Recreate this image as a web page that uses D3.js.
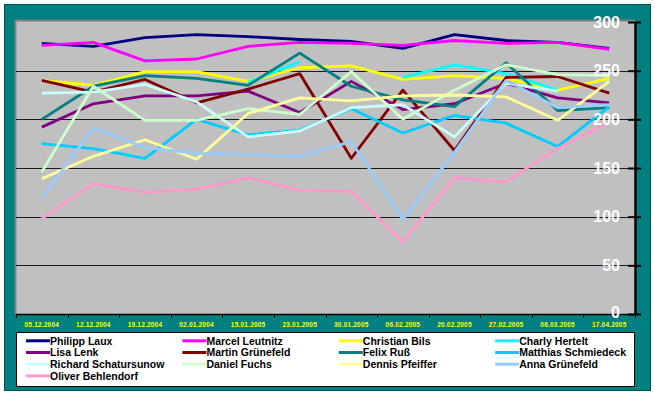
<!DOCTYPE html>
<html>
<head>
<meta charset="utf-8">
<script src="https://cdn.jsdelivr.net/npm/d3@7"></script>
<style>
  body { margin: 0; background: #fff; }
  svg { display: block; font-family: "Liberation Sans", Arial, sans-serif; }
</style>
</head>
<body>
<svg id="chart" width="655" height="397"></svg>
<script>
// dates on the category axis
var dates = ['05.12.2004', '12.12.2004', '19.12.2004', '02.01.2004', '15.01.2005', '23.01.2005',
  '30.01.2005', '06.02.2005', '20.02.2005', '27.02.2005', '06.03.2005', '17.04.2005'];

var yTicks = [0, 50, 100, 150, 200, 250, 300];

// one array per player (null = no value)
var philippLaux = [278, 275, 284, 287, 285, 282, 280, 273, 287, 281, 279, 273];
var marcelLeutnitz = [276, 279, 260, 262, 275, 279, 278, 276, 281, 278, 279, 272];
var christianBils = [240, 235, 249, 249, 239, 253, 255, 241, 245, 242, 230, 242];
var charlyHertelt = [null, null, null, null, 238, 259, null, 243, 256, 247, 230, null];
var lisaLenk = [192, 216, 224, 224, 229, 207, 239, 210, 216, 237, 222, 217];
var martinGruenefeld = [240, 228, 241, 217, 231, 247, 160, 230, 168, 243, 244, 227];
var felixRuss = [200, 234, 245, 242, 235, 268, 234, 220, 213, 258, 209, 212];
var matthiasSchmiedeck = [175, 170, 160, 200, 184, 189, 211, 186, 204, 196, 172, 213];
var richardSchatursunow = [227, 228, 236, 218, 182, 188, 212, 215, 182, 237, 229, null];
var danielFuchs = [146, 234, 199, 199, 211, 205, 249, 200, 230, 256, 246, 245];
var dennisPfeiffer = [139, 162, 179, 159, 206, 222, 219, 224, 225, 223, 199, 239];
var annaGruenefeld = [119, 191, 171, 165, 164, 162, 177, 97, 166, 240, 212, 215];
var oliverBehlendorf = [98, 134, 125, 128, 140, 127, 126, 74, 140, 136, 170, 197];

var names = ['Philipp Laux', 'Marcel Leutnitz', 'Christian Bils', 'Charly Hertelt', 'Lisa Lenk',
  'Martin Grünefeld', 'Felix Ruß', 'Matthias Schmiedeck', 'Richard Schatursunow', 'Daniel Fuchs',
  'Dennis Pfeiffer', 'Anna Grünefeld', 'Oliver Behlendorf'];

var values = [philippLaux, marcelLeutnitz, christianBils, charlyHertelt, lisaLenk, martinGruenefeld,
  felixRuss, matthiasSchmiedeck, richardSchatursunow, danielFuchs, dennisPfeiffer, annaGruenefeld,
  oliverBehlendorf];

// excel's default line colours, in series order
var colors = ['#000080', '#ff00ff', '#ffff00', '#00ffff', '#800080', '#800000', '#008080',
  '#00ccff', '#ccffff', '#ccffcc', '#ffff99', '#99ccff', '#ff99cc'];

var series = names.map(function(n, i) {
  return {name: n, values: values[i], color: colors[i]};
});

var svg = d3.select('#chart');

var plot = {left: 16, right: 635, top: 21, bottom: 314};

// teal background panel
svg.append('rect')
  .attr('x', 4.5).attr('y', 4.5)
  .attr('width', 646).attr('height', 386)
  .attr('fill', '#008080')
  .attr('stroke', '#005050');

// grey plot area with the darker top/left edge
svg.append('rect')
  .attr('x', plot.left).attr('y', plot.top)
  .attr('width', plot.right - plot.left).attr('height', plot.bottom - plot.top)
  .attr('fill', '#c0c0c0');
svg.append('path')
  .attr('d', 'M' + (plot.left - 0.5) + ',' + plot.bottom + 'V' + (plot.top - 0.5) + 'H' + plot.right)
  .attr('fill', 'none')
  .attr('stroke', '#808080')
  .attr('stroke-width', 2);

var x = d3.scaleBand().domain(dates).range([plot.left, plot.right]);
var y = d3.scaleLinear().domain([0, 300]).range([plot.bottom, 22]);

// gridlines
svg.append('g')
  .selectAll('line')
  .data(yTicks.filter(function(t) { return t > 0 && t < 300; }))
  .join('line')
  .attr('x1', plot.left).attr('x2', plot.right)
  .attr('y1', function(d) { return Math.round(y(d)) + 0.5; })
  .attr('y2', function(d) { return Math.round(y(d)) + 0.5; })
  .attr('stroke', '#1a1a1a');

// series lines
var line = d3.line()
  .defined(function(d) { return d != null; })
  .x(function(d, i) { return x(dates[i]) + x.bandwidth() / 2; })
  .y(function(d) { return y(d); });

svg.append('g')
  .selectAll('path')
  .data(series)
  .join('path')
  .attr('d', function(s) { return line(s.values); })
  .attr('fill', 'none')
  .attr('stroke', function(s) { return s.color; })
  .attr('stroke-width', 2.8)
  .attr('stroke-linejoin', 'round');

// category axis: labels centred, ticks at the band edges
var xAxis = svg.append('g')
  .attr('transform', 'translate(0,' + plot.bottom + ')')
  .call(d3.axisBottom(x).tickSize(0).tickPadding(8));
xAxis.select('.domain').remove();
xAxis.selectAll('text')
  .attr('fill', '#ffff00')
  .attr('font-size', '6.5px')
  .attr('font-weight', 'bold')
  .attr('letter-spacing', '0.2px')
  .attr('font-family', '"Liberation Sans", Arial, sans-serif');

var edges = dates.map(function(d) { return x(d); }).concat([plot.right]);
svg.append('g')
  .selectAll('line')
  .data(edges)
  .join('line')
  .attr('x1', function(d) { return Math.round(d) + 0.5; })
  .attr('x2', function(d) { return Math.round(d) + 0.5; })
  .attr('y1', plot.bottom).attr('y2', plot.bottom + 4)
  .attr('stroke', '#000');
svg.append('line')
  .attr('x1', plot.left).attr('x2', plot.right + 1)
  .attr('y1', plot.bottom + 0.5).attr('y2', plot.bottom + 0.5)
  .attr('stroke', '#000')
  .attr('stroke-width', 1.5);

// value axis on the right, labels inside the plot
var yAxis = svg.append('g')
  .attr('transform', 'translate(' + plot.right + ',0)')
  .call(d3.axisLeft(y).tickValues(yTicks).tickSizeInner(7).tickSizeOuter(0).tickPadding(8));
yAxis.select('.domain')
  .attr('stroke', '#000')
  .attr('stroke-width', 2.5);
yAxis.selectAll('.tick line')
  .attr('x1', 6)
  .attr('stroke', '#000')
  .attr('stroke-width', 2);
yAxis.selectAll('text')
  .attr('fill', '#fff')
  .attr('font-size', '16px')
  .attr('font-weight', 'bold')
  .attr('font-family', '"Liberation Sans", Arial, sans-serif');
// the 0 sits a little higher so it clears the last date label
yAxis.selectAll('text')
  .filter(function(d) { return d === 0; })
  .attr('dy', '0.2em');

// legend
svg.append('rect')
  .attr('x', 16.5).attr('y', 332.5)
  .attr('width', 618).attr('height', 54)
  .attr('fill', '#fff')
  .attr('stroke', '#000');

var legend = svg.append('g')
  .selectAll('g')
  .data(series)
  .join('g')
  .attr('transform', function(s, i) {
    return 'translate(' + (26 + (i % 4) * 156.4) + ',' + (340.8 + Math.floor(i / 4) * 11.7) + ')';
  });
legend.append('line')
  .attr('x1', 0).attr('x2', 24)
  .attr('stroke', function(s) { return s.color; })
  .attr('stroke-width', 3);
legend.append('text')
  .attr('x', 24)
  .attr('dy', '0.36em')
  .attr('font-size', '10.5px')
  .attr('font-weight', 'bold')
  .attr('fill', '#000')
  .text(function(s) { return s.name; });
</script>
</body>
</html>
